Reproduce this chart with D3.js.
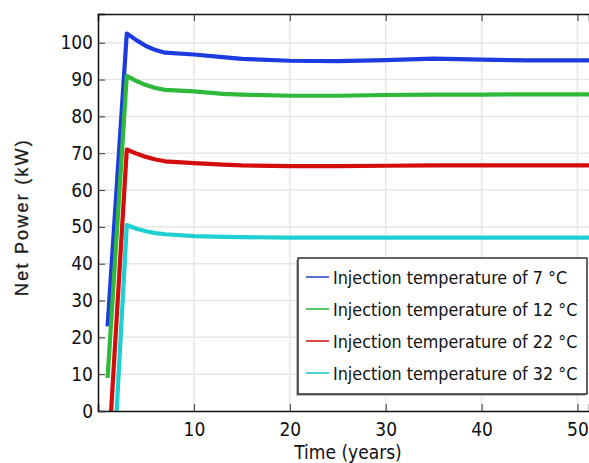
<!DOCTYPE html>
<html>
<head>
<meta charset="utf-8">
<script src="https://cdn.jsdelivr.net/npm/d3@7"></script>
<style>
  html, body { margin: 0; padding: 0; background: #fff; }
  svg { display: block; }
  .tick text { font-family: "DejaVu Sans Condensed", "DejaVu Sans", sans-serif; font-size: 19px; fill: #111; }
</style>
</head>
<body>
<svg id="chart" width="589" height="463"></svg>
<script>
// Net power of the plant over time, one curve per injection temperature
const years   = [1, 3, 4, 5, 6, 7, 10, 13, 15, 20, 25, 30, 35, 40, 45, 51.2];
const power7  = [23, 102.5, 100.7, 99.1, 98, 97.3, 96.8, 96.1, 95.6, 95.1, 95.0, 95.3, 95.7, 95.4, 95.2, 95.2];
const power12 = [9, 91, 89.6, 88.5, 87.7, 87.2, 86.8, 86.1, 85.9, 85.6, 85.6, 85.8, 85.9, 85.9, 86, 86];
const power22 = [-16, 71, 69.9, 69.0, 68.3, 67.8, 67.3, 66.9, 66.7, 66.5, 66.5, 66.6, 66.7, 66.7, 66.7, 66.7];
const power32 = [-45, 50.5, 49.5, 48.8, 48.3, 48.0, 47.5, 47.3, 47.2, 47.1, 47.1, 47.1, 47.1, 47.1, 47.1, 47.1];

const seriesNames = [
  "Injection temperature of 7 °C",
  "Injection temperature of 12 °C",
  "Injection temperature of 22 °C",
  "Injection temperature of 32 °C"
];
const seriesValues = [power7, power12, power22, power32];
const seriesColors = ["#1c3ce0", "#2fb93a", "#d40c0c", "#1fcfd2"];
const legendColors = ["#5a72d8", "#5cc46a", "#d84848", "#4fd4d4"];

const xTicks = [10, 20, 30, 40, 50];
const yTicks = [0, 10, 20, 30, 40, 50, 60, 70, 80, 90, 100];

const svg = d3.select("#chart");
const W = 589, H = 463;
const x0 = 98, yTop = 14, yBot = 411;

const x = d3.scaleLinear().domain([0, 51.2]).range([x0, W]);
const y = d3.scaleLinear().domain([0, 107.8]).range([yBot, yTop]);

// grid
const grid = svg.append("g");
grid.selectAll("line.gy").data(yTicks.slice(1)).join("line")
  .attr("x1", x0).attr("x2", W).attr("y1", d => y(d)).attr("y2", d => y(d))
  .attr("stroke", "#e6e6e6").attr("stroke-width", 1.5);
grid.selectAll("line.gx").data(xTicks).join("line")
  .attr("x1", d => x(d)).attr("x2", d => x(d)).attr("y1", yTop).attr("y2", yBot)
  .attr("stroke", "#e6e6e6").attr("stroke-width", 1.5);

// clip region for curves
svg.append("clipPath").attr("id", "plotClip").append("rect")
  .attr("x", x0).attr("y", yTop).attr("width", W - x0).attr("height", yBot - yTop);

const line = d3.line().x(d => x(d[0])).y(d => y(d[1])).curve(d3.curveLinear);

svg.append("g").attr("clip-path", "url(#plotClip)")
  .selectAll("path").data(seriesValues).join("path")
  .attr("d", vals => line(years.map((t, i) => [t, vals[i]])))
  .attr("fill", "none")
  .attr("stroke", (d, i) => seriesColors[i])
  .attr("stroke-width", 4.2)
  .attr("stroke-linejoin", "round");

// axes
const xAxis = d3.axisBottom(x).tickValues(xTicks).tickSize(-7).tickPadding(12).tickFormat(d3.format("d"));
const gx = svg.append("g").attr("transform", `translate(0,${yBot})`).call(xAxis);
gx.select(".domain").attr("stroke", "#111").attr("stroke-width", 1.5);
gx.selectAll(".tick line").attr("stroke", "#333");

const xTop = d3.axisTop(x).tickValues(xTicks).tickSize(-7).tickFormat("");
const gxt = svg.append("g").attr("transform", `translate(0,${yTop})`).call(xTop);
gxt.select(".domain").attr("stroke", "#111").attr("stroke-width", 1.5);
gxt.selectAll(".tick line").attr("stroke", "#333");

const yAxis = d3.axisLeft(y).tickValues(yTicks).tickSize(-7).tickPadding(5).tickFormat(d3.format("d"));
const gy = svg.append("g").attr("transform", `translate(${x0},0)`).call(yAxis);
gy.select(".domain").attr("stroke", "#111").attr("stroke-width", 1.5);
gy.selectAll(".tick line").attr("stroke", "#333");

// axis titles
svg.append("text")
  .attr("x", 348).attr("y", 459)
  .attr("text-anchor", "middle")
  .style("font-family", "'DejaVu Sans Condensed', 'DejaVu Sans', sans-serif")
  .style("font-size", "19px").attr("fill", "#111")
  .text("Time (years)");

svg.append("text")
  .attr("transform", "translate(28,217) rotate(-90)")
  .attr("text-anchor", "middle")
  .style("font-family", "'Liberation Sans', Arial, sans-serif")
  .style("font-size", "18px").style("letter-spacing", "2.2px").attr("fill", "#1a1a1a")
  .attr("stroke", "#1a1a1a").attr("stroke-width", 0.3)
  .text("Net Power (kW)");

// legend
const lg = svg.append("g");
const lx = 298, ly = 258, lw = 289, lh = 136;
lg.append("rect").attr("x", lx - 2).attr("y", ly + 2).attr("width", lw).attr("height", lh)
  .attr("fill", "#bcbcbc");
lg.append("rect").attr("x", lx).attr("y", ly).attr("width", lw).attr("height", lh)
  .attr("fill", "#fff").attr("stroke", "#111").attr("stroke-width", 1.3);
const rows = lg.selectAll("g.row").data(seriesNames).join("g")
  .attr("transform", (d, i) => `translate(0,${277 + i * 32})`);
rows.append("line").attr("x1", 306).attr("x2", 329).attr("y1", 0).attr("y2", 0)
  .attr("stroke", (d, i) => legendColors[i]).attr("stroke-width", 2);
rows.append("text").attr("x", 333).attr("y", 7)
  .style("font-family", "'DejaVu Sans Condensed', 'DejaVu Sans', sans-serif")
  .style("font-size", "17.8px").attr("fill", "#111")
  .text(d => d);
</script>
</body>
</html>
